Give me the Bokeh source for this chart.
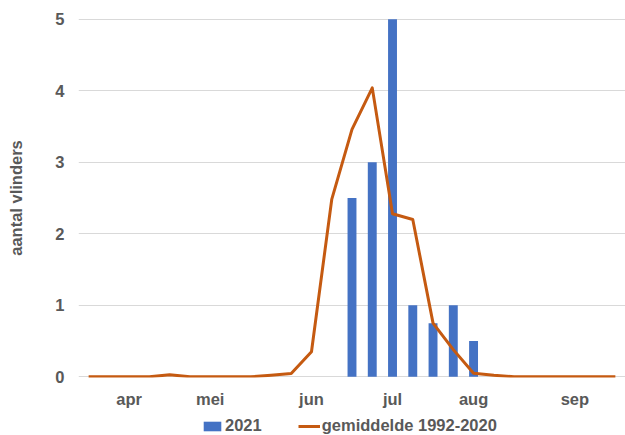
from bokeh.plotting import figure
from bokeh.layouts import column
from bokeh.models import Range1d, FixedTicker, Legend, LegendItem
from bokeh.embed import file_html
from bokeh.resources import INLINE

# weekly categories (index 0..26), month labels at selected weeks
week_index = list(range(27))
month_ticks = [2, 6, 11, 15, 19, 24]
month_labels = ["apr", "mei", "jun", "jul", "aug", "sep"]

# average 1992-2020 (line)
avg_values = [0, 0, 0, 0, 0.03, 0, 0, 0, 0, 0.02, 0.045, 0.35, 2.48, 3.46, 4.04,
              2.28, 2.2, 0.75, 0.38, 0.05, 0.02, 0, 0, 0, 0, 0, 0]

# 2021 counts (bars)
bar_weeks = [13, 14, 15, 16, 17, 18, 19]
bar_values = [2.5, 3, 5, 1, 0.75, 1, 0.5]

series_names = ["2021", "gemiddelde 1992-2020"]

BLUE = "#4472C4"
ORANGE = "#C55A11"
GRAY = "#595959"
FONT = "Liberation Sans"
FS = "16.5px"

p = figure(width=625, height=410, output_backend="svg", toolbar_location=None,
           x_range=Range1d(-0.5, 26.5), y_range=Range1d(-0.01, 5.01),
           min_border_left=78, min_border_right=0, min_border_top=18,
           min_border_bottom=33)
p.outline_line_color = None

p.vbar(x=bar_weeks, top=bar_values, width=0.44, color=BLUE, line_color=None)
p.line(week_index, avg_values, color=ORANGE, line_width=3, line_join="round")

p.xgrid.grid_line_color = None
p.ygrid.grid_line_color = "#D9D9D9"
p.ygrid.grid_line_width = 1
p.yaxis.ticker = FixedTicker(ticks=[0, 1, 2, 3, 4, 5])
p.xaxis.ticker = FixedTicker(ticks=month_ticks)
p.xaxis.major_label_overrides = {t: l for t, l in zip(month_ticks, month_labels)}

for ax in (p.xaxis[0], p.yaxis[0]):
    ax.axis_line_color = None
    ax.major_tick_line_color = None
    ax.minor_tick_line_color = None
    ax.major_tick_out = 0
    ax.major_tick_in = 0
    ax.major_label_text_font = FONT
    ax.major_label_text_font_style = "bold"
    ax.major_label_text_font_size = FS
    ax.major_label_text_color = GRAY

p.xaxis.major_label_standoff = 12
p.yaxis.major_label_standoff = 14
p.yaxis.axis_label = "aantal vlinders"
p.yaxis.axis_label_text_font = FONT
p.yaxis.axis_label_text_font_style = "bold"
p.yaxis.axis_label_text_font_size = FS
p.yaxis.axis_label_text_color = GRAY
p.yaxis.axis_label_standoff = 27

# legend strip below the chart (proxy renderers without visible marks)
nan = float("nan")
q = figure(width=625, height=25, output_backend="svg", toolbar_location=None,
           x_range=Range1d(0, 1), y_range=Range1d(0, 1),
           min_border_left=0, min_border_right=0, min_border_top=0,
           min_border_bottom=0)
q.axis.visible = False
q.grid.visible = False
q.outline_line_color = None
lb = q.vbar(x=[nan], top=[nan], width=0.44, color=BLUE, line_color=None)
ll = q.line(x=[nan], y=[nan], color=ORANGE, line_width=3)

legend = Legend(items=[LegendItem(label=series_names[0], renderers=[lb]),
                       LegendItem(label=series_names[1], renderers=[ll])],
                orientation="horizontal", location=(123, 0),
                border_line_color=None, background_fill_alpha=0,
                padding=0, margin=0, spacing=36, label_standoff=2,
                glyph_width=22, glyph_height=12,
                label_text_font=FONT, label_text_font_style="bold",
                label_text_font_size=FS, label_text_color=GRAY)
q.add_layout(legend, "center")

open("out.html", "w").write(file_html(column(p, q, spacing=0), INLINE))
